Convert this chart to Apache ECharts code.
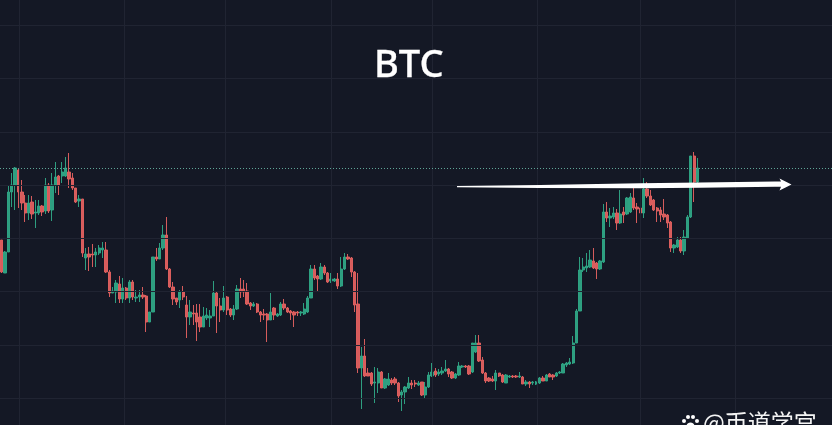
<!DOCTYPE html>
<html>
<head>
<meta charset="utf-8">
<style>html,body{margin:0;padding:0;background:#141825}#c{width:832px;height:425px}</style>
<script src="https://cdn.jsdelivr.net/npm/echarts@6/dist/echarts.min.js"></script>
</head>
<body>
<div id="c"></div>
<script>
const opens=[185,152,173,233,240,255,233,222,212,223,212,212,219,214,240,215,240,249,249,249,253,247,237,224,226,167,171,171,170,172,175,175,153,132,133,141,126,137,127,143,127,128,130,129,103,113,168,166,177,190,156,138,127,125,133,120,108,112,112,108,98,107,107,109,132,119,115,128,116,110,116,136,136,134,122,119,121,113,111,111,105,117,109,110,121,117,114,113,113,112,111,113,127,156,149,146,158,152,144,144,146,139,156,168,167,153,121,57,69,52,52,42,42,53,37,40,45,46,42,30,33,37,42,42,40,43,30,38,49,54,51,52,54,56,53,47,50,58,59,59,53,73,82,65,52,47,46,44,52,50,42,48,49,49,48,48,41,43,42,41,42,47,44,51,50,49,52,52,60,61,62,82,114,155,157,158,164,162,156,163,213,207,208,212,202,213,211,213,227,218,217,212,236,229,225,217,215,211,210,203,177,178,185,174,187,208,269,243];
const closes=[153,173,233,240,257,233,222,212,222,211,213,219,213,240,214,240,248,240,253,257,246,237,223,226,172,171,168,170,173,177,177,153,132,134,142,126,137,127,143,128,128,130,128,103,113,168,166,177,190,156,138,126,123,133,128,108,113,111,103,98,109,110,109,132,119,115,127,115,110,116,136,133,133,121,119,121,113,110,110,105,113,110,111,121,117,113,112,110,112,113,116,127,156,147,146,158,152,143,146,146,139,156,168,166,153,120,57,69,49,49,41,43,53,37,46,46,42,42,29,33,38,42,40,41,42,30,38,50,53,50,53,54,56,51,47,51,59,59,58,51,82,82,64,52,44,44,44,52,49,43,50,49,48,48,49,41,43,41,43,43,47,44,50,48,48,52,53,61,62,63,82,114,155,158,159,165,157,156,164,213,207,209,212,202,211,210,227,228,217,216,212,236,229,220,215,214,210,208,202,177,180,185,174,188,208,269,243,257];
const lows=[152,152,173,218,215,217,215,203,205,206,197,210,209,211,212,204,232,230,242,248,237,235,222,218,168,155,154,158,158,170,167,152,128,132,122,122,122,125,122,125,123,123,126,93,103,113,164,166,175,155,137,120,120,117,125,87,100,100,84,93,98,105,98,109,92,103,113,110,108,105,115,127,128,120,115,118,112,103,105,83,105,105,108,109,115,112,105,98,109,109,110,112,127,145,133,145,150,142,142,143,136,138,155,165,148,113,52,16,48,49,39,22,32,37,36,39,40,40,23,14,21,36,36,38,39,29,27,37,48,48,49,50,53,48,46,46,49,57,57,50,52,72,63,51,42,43,43,35,48,42,42,47,47,47,47,41,39,37,40,40,41,44,44,48,45,48,51,52,58,60,61,82,114,153,153,157,156,146,155,162,203,198,206,195,201,202,210,212,215,202,208,207,227,219,214,203,203,205,197,173,172,177,172,170,186,207,223,242];
const highs=[185,174,240,252,258,257,245,230,230,229,225,225,220,247,242,252,263,250,263,268,272,252,237,230,226,177,178,181,177,180,183,183,155,138,145,149,147,138,145,145,135,135,138,130,113,168,177,182,200,208,157,143,127,135,139,129,125,120,121,121,118,117,115,144,133,127,139,129,117,120,140,147,145,142,123,123,122,114,116,112,132,118,112,123,126,118,115,114,114,114,122,129,160,160,150,162,160,153,152,147,152,168,172,171,168,154,152,78,86,57,53,58,57,54,47,52,47,48,43,35,39,48,45,45,44,43,43,53,62,57,56,58,65,57,54,52,63,60,60,60,82,90,90,68,53,48,49,55,52,51,51,50,50,50,53,49,45,44,44,44,48,49,51,52,51,53,54,62,63,67,89,116,168,167,172,175,177,163,165,221,223,217,218,216,235,218,228,232,238,222,220,247,243,235,226,218,218,226,211,204,181,188,188,195,210,269,273,267];
const categories=Array.from({length:247},(_,i)=>String(i));
const gridXs=[19.5,124,225.5,331,432,537,640.5,735];
const gridYs=[400,347,293,240,187,134,80,27];
const levelLine=[257];
const titleText='BTC';
const watermark='@币道学宫';

const candleData=opens.map((o,i)=>[o,closes[i],lows[i],highs[i]]);
const chart=echarts.init(document.getElementById('c'),null,{renderer:'canvas'});
const white='#ffffff';
const band=832/247;
chart.setOption({
  animation:false,
  backgroundColor:'#141825',
  title:{text:titleText,left:369,top:42,textStyle:{color:'#fff',fontFamily:'"Noto Sans"',fontSize:38,fontWeight:500,textBorderColor:'#fff',textBorderWidth:0.3}},
  grid:[
    {left:-band/2,right:band/2,top:0,bottom:0},
    {left:0,right:0,top:0,bottom:0}
  ],
  xAxis:[
    {type:'category',gridIndex:0,data:categories,show:false,boundaryGap:true},
    {type:'value',gridIndex:1,min:0,max:832,show:false}
  ],
  yAxis:[
    {type:'value',gridIndex:0,min:0,max:425,show:false},
    {type:'value',gridIndex:1,min:0,max:425,show:false}
  ],
  series:[
    {type:'line',xAxisIndex:1,yAxisIndex:1,data:[],z:1,silent:true,
      markLine:{silent:true,symbol:'none',label:{show:false},animation:false,
        lineStyle:{color:'#202432',width:1,type:'solid'},
        data:[...gridXs.map(v=>({xAxis:v})),...gridYs.map(v=>({yAxis:v}))]}},
    {type:'line',xAxisIndex:1,yAxisIndex:1,data:[],z:2,silent:true,
      markLine:{silent:true,symbol:'none',label:{show:false},animation:false,
        lineStyle:{color:'#5fa597',width:1,type:[1,2]},
        data:levelLine.map(v=>({yAxis:v}))}},
    {type:'candlestick',xAxisIndex:0,yAxisIndex:0,data:candleData,barWidth:2.8,z:3,
      itemStyle:{color:'#2fa585',color0:'#e0605f',borderColor:'#2fa585',borderColor0:'#e0605f',borderWidth:1,opacity:0.95}}
  ],
  graphic:[
    {type:'polygon',z:100,shape:{points:[[457,186.1],[540,184.9],[640,183.2],[700,182.6],[775,181.5],[781,181.5],[779.5,178.5],[791.5,184.5],[779.5,190.5],[781,186.8],[775,186.8],[700,187.8],[640,188.2],[540,188.1],[457,187.3]]},style:{fill:'#fff'}},
    {type:'text',z:100,x:703,y:411,style:{text:watermark,fill:'#f4f4f4',font:'23px "Noto Sans CJK SC"'}},
    {type:'group',z:100,children:[
      {type:'circle',shape:{cx:684,cy:421,r:2},style:{fill:white}},
      {type:'circle',shape:{cx:688,cy:417,r:2},style:{fill:white}},
      {type:'circle',shape:{cx:693,cy:417,r:2},style:{fill:white}},
      {type:'circle',shape:{cx:697,cy:421,r:2},style:{fill:white}},
      {type:'ellipse',shape:{cx:690.5,cy:426,rx:4,ry:3.5},style:{fill:white}}
    ]}
  ]
});
</script>
</body>
</html>
